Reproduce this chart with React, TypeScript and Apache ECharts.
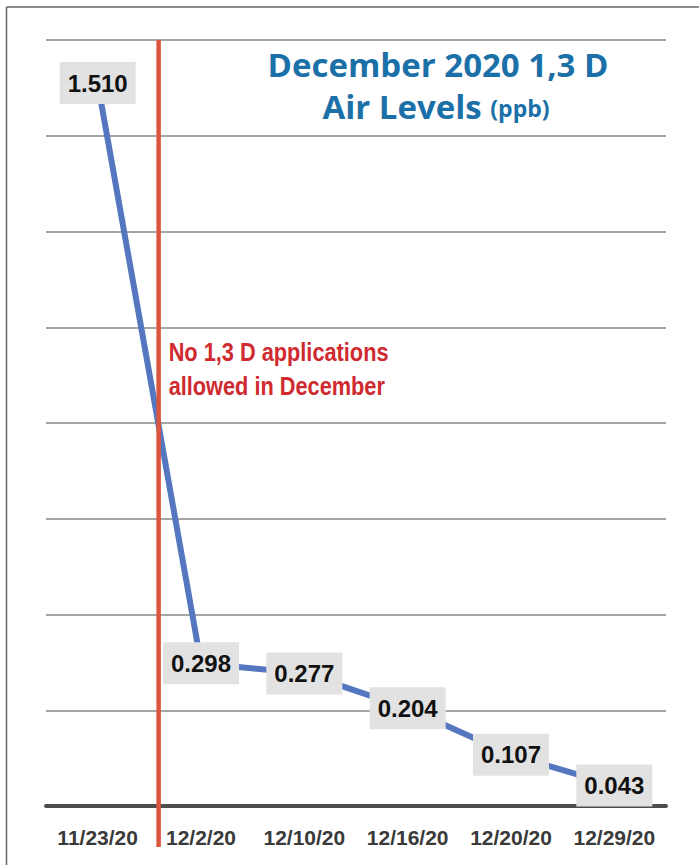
import React, { useEffect, useRef } from "react";
import * as echarts from "echarts";

const categories = ["11/23/20", "12/2/20", "12/10/20", "12/16/20", "12/20/20", "12/29/20"];
const airLevels = [1.51, 0.298, 0.277, 0.204, 0.107, 0.043];
const yMin = 0;
const yMax = 1.6;
const yInterval = 0.2;
const titleLine1 = "December 2020 1,3 D";
const titleLine2 = "Air Levels";
const titleUnit = "(ppb)";
const noteLines = ["No 1,3 D applications", "allowed in December"];
// position of the "no applications" marker between the first two categories (fraction of the gap)
const markerFraction = 0.59;

const COND = '"Liberation Sans", Arial, sans-serif';
const TITLE_FONT = '"Open Sans", "Noto Sans", sans-serif';

export default function App() {
  const ref = useRef<HTMLDivElement>(null);
  useEffect(() => {
    if (!ref.current) return;
    const chart = echarts.init(ref.current, undefined, { renderer: "svg" });
    chart.setOption({
      animation: false,
      backgroundColor: "#ffffff",
      grid: { left: 46, right: 33, top: 40, bottom: 59, containLabel: false },
      xAxis: {
        type: "category",
        data: categories,
        boundaryGap: true,
        axisLine: { show: true, lineStyle: { color: "#4d4d4d", width: 4 } },
        axisTick: { show: false },
        splitLine: { show: false },
        axisLabel: {
          interval: 0,
          color: "#3a3a3a",
          fontFamily: COND,
          fontWeight: "bold",
          fontSize: 21,
          margin: 21,
        },
      },
      yAxis: {
        type: "value",
        min: yMin,
        max: yMax,
        interval: yInterval,
        axisLine: { show: false },
        axisTick: { show: false },
        axisLabel: { show: false },
        splitLine: { show: true, lineStyle: { color: "#a6a6a6", width: 2 } },
      },
      series: [
        {
          type: "line",
          data: airLevels,
          symbol: "circle",
          symbolSize: 1,
          showSymbol: true,
          itemStyle: { color: "#5577c0" },
          lineStyle: { color: "#5577c0", width: 6 },
          label: {
            show: true,
            position: "inside",
            formatter: (p: any) => Number(p.value).toFixed(3),
            color: "#111111",
            fontFamily: COND,
            fontWeight: "bold",
            fontSize: 24,
            lineHeight: 28,
            backgroundColor: "#e2e2e2",
            padding: [7, 8, 7, 8],
          },
          z: 3,
        },
      ],
    });

    const x0 = chart.convertToPixel({ xAxisIndex: 0 }, categories[0]) as unknown as number;
    const x1 = chart.convertToPixel({ xAxisIndex: 0 }, categories[1]) as unknown as number;
    const yTop = chart.convertToPixel({ yAxisIndex: 0 }, yMax) as unknown as number;
    const yBottom = chart.convertToPixel({ yAxisIndex: 0 }, yMin) as unknown as number;
    const mx = x0 + markerFraction * (x1 - x0);

    chart.setOption({
      graphic: [
        { type: "line", shape: { x1: 6.5, y1: 7, x2: 699, y2: 7 }, style: { stroke: "#666", lineWidth: 1.5 }, z: 10 },
        { type: "line", shape: { x1: 6.5, y1: 7, x2: 6.5, y2: 865 }, style: { stroke: "#666", lineWidth: 1.5 }, z: 10 },
        {
          type: "line",
          shape: { x1: mx, y1: yTop, x2: mx, y2: yBottom + 41 },
          style: { stroke: "#d9553e", lineWidth: 4.5 },
          z: 5,
        },
        {
          type: "text",
          x: mx + 10,
          y: 369,
          scaleX: 0.87,
          style: {
            text: noteLines.join("\n"),
            fill: "#cf2a2f",
            font: `bold 25px ${COND}`,
            lineHeight: 34,
            verticalAlign: "middle",
            textAlign: "left",
          },
          z: 10,
        },
        {
          type: "text",
          x: 438,
          y: 64,
          style: {
            text: titleLine1,
            fill: "#1b70a8",
            font: `bold 33px ${TITLE_FONT}`,
            lineHeight: 36,
            textAlign: "center",
            verticalAlign: "middle",
          },
          z: 10,
        },
        {
          type: "text",
          x: 436,
          y: 106,
          style: {
            text: `{a|${titleLine2} }{b|${titleUnit}}`,
            textAlign: "center",
            verticalAlign: "middle",
            rich: {
              a: { fill: "#1b70a8", font: `bold 33px ${TITLE_FONT}`, lineHeight: 36 },
              b: { fill: "#1b70a8", font: `bold 23px ${TITLE_FONT}`, lineHeight: 36, padding: [4, 0, 0, 0] },
            },
          },
          z: 10,
        },
      ],
    });
    return () => chart.dispose();
  }, []);
  return <div ref={ref} style={{ position: "fixed", left: 0, top: 0, width: 699, height: 865 }} />;
}
